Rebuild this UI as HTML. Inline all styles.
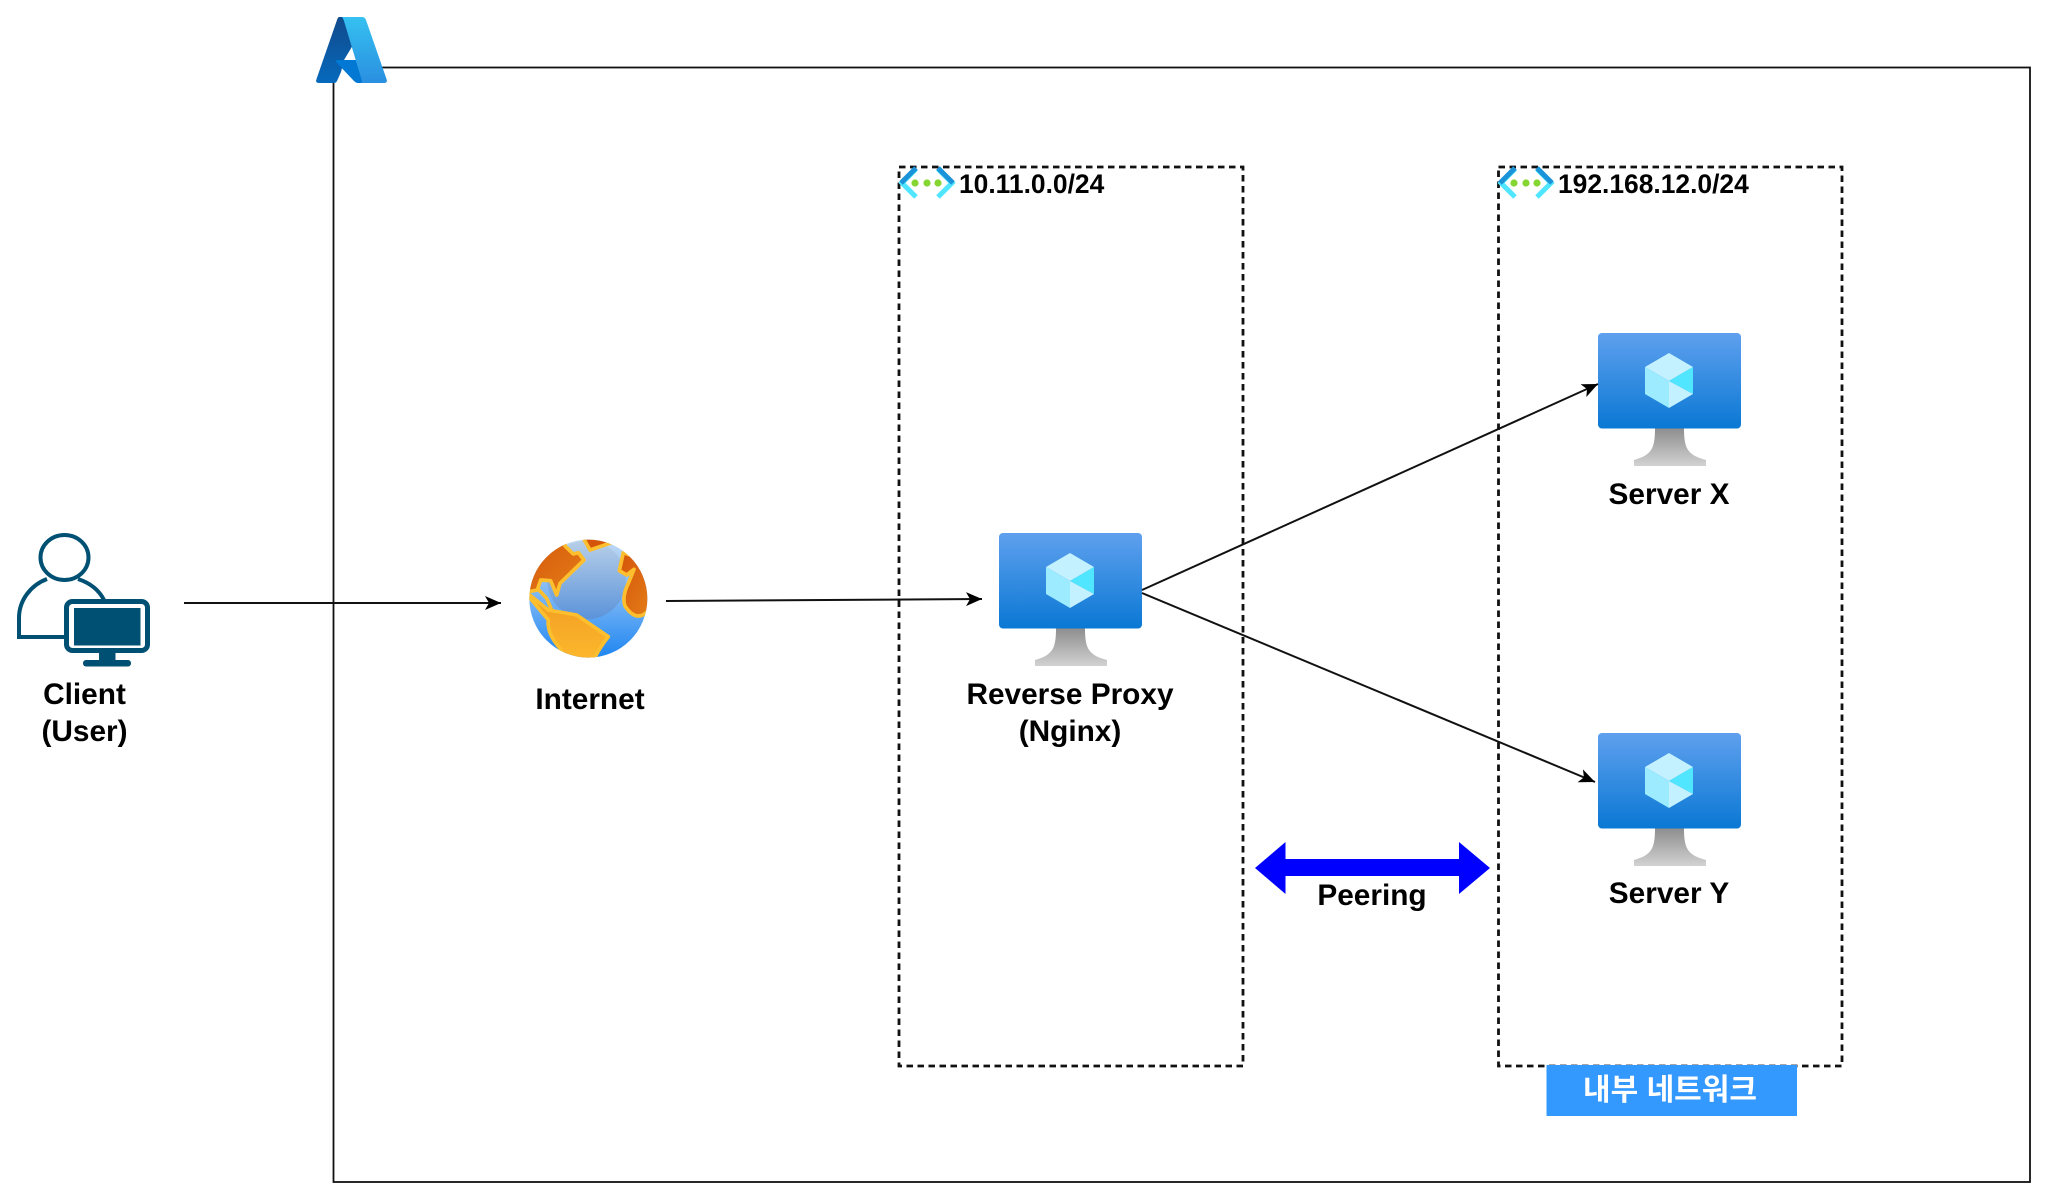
<!DOCTYPE html>
<html lang="ko">
<head>
<meta charset="utf-8">
<title>Azure Reverse Proxy Diagram</title>
<style>
html,body{margin:0;padding:0;background:#fff;width:2048px;height:1200px;overflow:hidden}
svg{display:block}
text{font-family:"Liberation Sans","Noto Sans CJK KR",sans-serif;font-weight:700;fill:#000}
</style>
</head>
<body>
<svg xmlns="http://www.w3.org/2000/svg" width="2048" height="1200" viewBox="0 0 2048 1200">
<defs>
<linearGradient id="vm" x1="0" y1="0" x2="0" y2="1"><stop offset="0" stop-color="#5fa0ee"/><stop offset="1" stop-color="#0a78d4"/></linearGradient>
<linearGradient id="st" x1="0" y1="0" x2="0" y2="1"><stop offset="0" stop-color="#8d8d8d"/><stop offset="1" stop-color="#d2d2d2"/></linearGradient>
<linearGradient id="lg1" x1="0" y1="0" x2="0" y2="1"><stop offset="0" stop-color="#114a8b"/><stop offset="1" stop-color="#0669bc"/></linearGradient>
<linearGradient id="lg2" x1="0" y1="0" x2="0" y2="1"><stop offset="0" stop-color="#35c1f1"/><stop offset="1" stop-color="#2a8fe0"/></linearGradient>
<linearGradient id="oc" x1="0" y1="0" x2="0" y2="1"><stop offset="0" stop-color="#c5dcf2"/><stop offset=".55" stop-color="#6fb0f5"/><stop offset="1" stop-color="#1b84f0"/></linearGradient>
<linearGradient id="oc2" x1="0" y1="0" x2="0" y2="1"><stop offset="0" stop-color="#b7cfe8"/><stop offset="1" stop-color="#5b93da"/></linearGradient>
<linearGradient id="or" x1="0" y1="0" x2="1" y2="1"><stop offset="0" stop-color="#d4540a"/><stop offset="1" stop-color="#e57f18"/></linearGradient>
<linearGradient id="ye" x1="0" y1="0" x2="0" y2="1"><stop offset="0" stop-color="#f09a20"/><stop offset="1" stop-color="#fdb92e"/></linearGradient>
<clipPath id="gc"><circle cx="235" cy="206" r="177"/></clipPath>
<marker id="ah" viewBox="0 0 16 14" refX="16" refY="7" markerWidth="16" markerHeight="14" markerUnits="userSpaceOnUse" orient="auto"><path d="M0,0 L16,7 L0,14 L4,7 Z" fill="#000"/></marker>
<g id="vmi">
<path d="M1056,628 H1085 C1085,648 1088,655 1107,660 V666 H1035 V660 C1053,655 1056,648 1056,628 Z" fill="url(#st)"/>
<rect x="999" y="533" width="143" height="95.5" rx="4" fill="url(#vm)"/>
<polygon points="1070,553 1094,567 1070,581 1046,567" fill="#c3f1ff"/>
<polygon points="1094,567 1094,594 1070,581" fill="#50e6ff"/>
<polygon points="1046,567 1070,581 1070,608 1046,594" fill="#9cebff"/>
<polygon points="1070,581 1094,594 1070,608" fill="#c3f1ff"/>
</g>
<g id="vnet">
<path d="M17,2 L3,16 L17,30" fill="none" stroke="#50e6ff" stroke-width="5"/>
<path d="M17,1 L2,16" fill="none" stroke="#1b93d8" stroke-width="5"/>
<path d="M39,2 L53,16 L39,30" fill="none" stroke="#50e6ff" stroke-width="5"/>
<path d="M39,1 L54,16" fill="none" stroke="#1b93d8" stroke-width="5"/>
<circle cx="16" cy="16" r="3.6" fill="#86d633"/><circle cx="28" cy="16" r="3.6" fill="#86d633"/><circle cx="39" cy="16" r="3.6" fill="#86d633"/>
</g>
</defs>

<rect x="333.5" y="67.5" width="1696.5" height="1114.5" fill="#fff" stroke="#111" stroke-width="1.8"/>

<!-- Azure logo -->
<path d="M339,17 H346 L353,45 L344,60 L341,72 L337,81 Q336,83 334,83 H319 Q315,83 316.500,79 L337,20 Q338,17 339,17 Z" fill="url(#lg1)"/>
<path d="M336,62 Q335,60 338,60 H358 L365,83 H358 Q356,83 354,81 Z" fill="#0078d4"/>
<path d="M342,17 H362 Q365,17 366,20 L386.500,79 Q388,83 384,83 H361 Q362.500,83 362,81 L344,21 Q343,18 342,17 Z" fill="url(#lg2)"/>

<!-- VNet boxes -->
<rect x="899" y="167" width="344" height="899" fill="none" stroke="#111" stroke-width="2.8" stroke-dasharray="6.500 4.500"/>
<rect x="1498.500" y="167" width="343.500" height="899" fill="none" stroke="#111" stroke-width="2.8" stroke-dasharray="6.500 4.500"/>
<use href="#vnet" x="899" y="167"/>
<use href="#vnet" x="1498" y="167"/>
<text x="959" y="193" font-size="26.400">10.11.0.0/24</text>
<text x="1558" y="193" font-size="26.400">192.168.12.0/24</text>

<!-- Client -->
<g fill="none" stroke="#005073" stroke-width="4">
<ellipse cx="64.500" cy="557.500" rx="24" ry="22.500"/>
<path d="M66,637 H19 V618 C19,600 31,585 47,579"/>
<path d="M78,579 C90,583 99,590 104,600"/>
<rect x="66.500" y="601.500" width="81" height="49" rx="6" fill="#fff" stroke-width="5"/>
</g>
<rect x="74" y="608" width="66.500" height="37.500" fill="#005073"/>
<rect x="99" y="652" width="16.500" height="9" fill="#005073"/>
<rect x="83" y="660" width="48" height="6.500" rx="3" fill="#005073"/>
<text x="84.500" y="704" font-size="29.800" text-anchor="middle">Client</text>
<text x="84.500" y="741" font-size="29.800" text-anchor="middle">(User)</text>

<!-- Globe -->
<g transform="translate(510,530) scale(.33333)">
<g clip-path="url(#gc)">
<rect x="50" y="20" width="370" height="370" fill="url(#oc)"/>
<circle cx="230" cy="150" r="118" fill="url(#oc2)"/>
<g stroke="#fdbf2d" stroke-width="11" stroke-linejoin="round">
<path d="M30,190 L30,20 L165,20 L165,48 L190,72 L205,68 L222,90 L150,160 L140,195 L122,152 L92,150 L82,180 Z" fill="url(#or)"/>
<path d="M212,10 L300,10 L305,38 L240,60 Z" fill="#d4540a"/>
<path d="M340,68 L430,100 L430,225 Q405,258 385,258 Q365,258 345,228 Q335,200 355,160 L372,118 L350,135 L328,122 Z" fill="url(#or)"/>
<path d="M40,180 L115,240 L200,255 L295,320 Q270,350 245,400 L170,400 L150,355 Q110,310 115,270 Z" fill="url(#ye)"/>
<path d="M85,178 L110,205 L125,240" fill="none"/>
</g>
</g>
</g>
<text x="590" y="709" font-size="29.800" text-anchor="middle">Internet</text>

<!-- VMs -->
<use href="#vmi"/>
<use href="#vmi" x="599" y="-200"/>
<use href="#vmi" x="599" y="200"/>
<text x="1070" y="704" font-size="29.800" text-anchor="middle">Reverse Proxy</text>
<text x="1070" y="741" font-size="29.800" text-anchor="middle">(Nginx)</text>
<text x="1669" y="504" font-size="29.800" text-anchor="middle">Server X</text>
<text x="1669" y="903" font-size="29.800" text-anchor="middle">Server Y</text>

<!-- Connectors -->
<g fill="none" stroke="#111" stroke-width="2">
<path d="M184,603 H501" marker-end="url(#ah)"/>
<path d="M666,601 L982,599" marker-end="url(#ah)"/>
<path d="M1142,590 L1598,384" marker-end="url(#ah)"/>
<path d="M1142,593 L1595,782" marker-end="url(#ah)"/>
</g>

<!-- Peering -->
<polygon points="1255,868 1285.500,842 1285.500,859 1459,859 1459,842 1490,868 1459,894 1459,876 1285.500,876 1285.500,894" fill="#0000ff"/>
<text x="1372" y="905" font-size="29.800" text-anchor="middle">Peering</text>

<!-- Label -->
<rect x="1546.500" y="1065" width="250.500" height="51" fill="#3399ff"/>
<text x="1670" y="1100" font-size="30" text-anchor="middle" style="fill:#fff">내부 네트워크</text>
</svg>
</body>
</html>
